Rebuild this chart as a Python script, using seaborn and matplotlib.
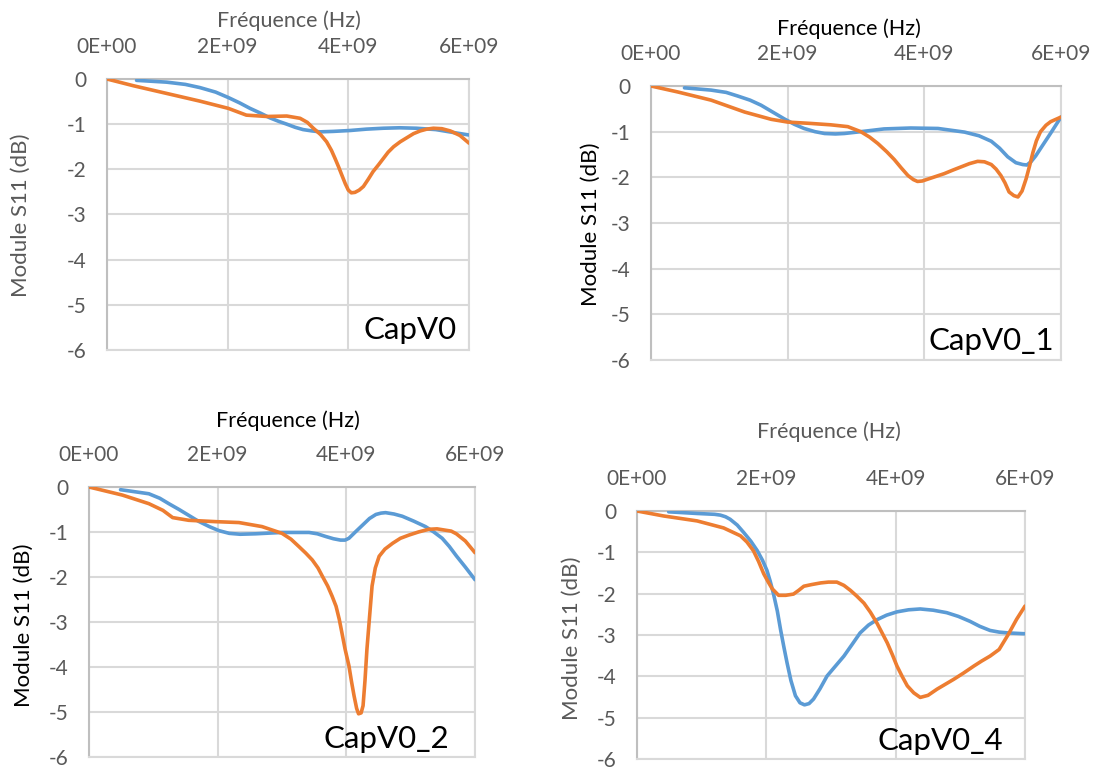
import matplotlib
matplotlib.use("Agg")
import matplotlib.pyplot as plt
import pandas as pd
import seaborn as sns

W, H = 1096, 771

# Frequencies in GHz, |S11| in dB
# --- CapV0 ---
capv0_sim_f = [0.49, 0.99, 1.30, 1.54, 1.80, 2.01, 2.20, 2.37, 2.55, 2.70, 2.85, 2.98, 3.12, 3.25, 3.40,
               3.53, 3.75, 4.03, 4.30, 4.58, 4.85, 5.13, 5.45, 5.72, 6.00]
capv0_sim_db = [-0.03, -0.07, -0.12, -0.19, -0.29, -0.41, -0.53, -0.65, -0.76, -0.86, -0.94, -1.00, -1.07,
                -1.12, -1.15, -1.17, -1.16, -1.14, -1.11, -1.09, -1.08, -1.09, -1.12, -1.18, -1.24]
capv0_mes_f = [0.0, 0.44, 0.99, 1.54, 2.01, 2.31, 2.65, 2.98, 3.20, 3.32, 3.42, 3.54, 3.64, 3.72, 3.78,
               3.84, 3.89, 3.95, 4.00, 4.05, 4.11, 4.18, 4.25, 4.33, 4.41, 4.50, 4.58, 4.66, 4.75, 4.86,
               4.97, 5.08, 5.19, 5.30, 5.41, 5.55, 5.69, 5.85, 6.00]
capv0_mes_db = [0.0, -0.15, -0.32, -0.49, -0.65, -0.80, -0.83, -0.82, -0.87, -0.96, -1.09, -1.23, -1.39,
                -1.58, -1.76, -1.95, -2.12, -2.32, -2.46, -2.52, -2.51, -2.46, -2.38, -2.22, -2.05, -1.90,
                -1.76, -1.62, -1.50, -1.39, -1.30, -1.21, -1.15, -1.11, -1.09, -1.10, -1.15, -1.25, -1.42]

# --- CapV0_1 ---
capv01_sim_f = [0.49, 0.88, 1.10, 1.27, 1.45, 1.61, 1.78, 1.95, 2.10, 2.24, 2.40, 2.54, 2.70, 2.83, 3.07,
                3.41, 3.80, 4.20, 4.59, 4.80, 4.98, 5.10, 5.22, 5.34, 5.44, 5.50, 5.56, 5.63, 5.70, 5.85, 6.00]
capv01_sim_db = [-0.04, -0.09, -0.14, -0.22, -0.31, -0.42, -0.57, -0.72, -0.84, -0.93, -1.00, -1.04, -1.05,
                 -1.04, -1.00, -0.94, -0.92, -0.93, -1.01, -1.09, -1.21, -1.36, -1.55, -1.68, -1.72, -1.73,
                 -1.66, -1.53, -1.37, -1.03, -0.68]
capv01_mes_f = [0.0, 0.39, 0.88, 1.37, 1.76, 2.00, 2.34, 2.63, 2.88, 3.07, 3.20, 3.32, 3.45, 3.56, 3.66,
                3.76, 3.84, 3.90, 3.97, 4.05, 4.17, 4.29, 4.42, 4.54, 4.66, 4.78, 4.88, 4.98, 5.05, 5.12,
                5.18, 5.24, 5.31, 5.37, 5.43, 5.49, 5.54, 5.59, 5.64, 5.70, 5.78, 5.85, 6.00]
capv01_mes_db = [0.0, -0.13, -0.31, -0.57, -0.73, -0.79, -0.82, -0.85, -0.89, -1.00, -1.12, -1.26, -1.44,
                 -1.61, -1.79, -1.96, -2.05, -2.09, -2.08, -2.04, -1.98, -1.92, -1.84, -1.77, -1.70, -1.65,
                 -1.66, -1.72, -1.82, -1.96, -2.12, -2.32, -2.40, -2.43, -2.30, -2.03, -1.75, -1.45, -1.20,
                 -1.00, -0.86, -0.78, -0.68]

# --- CapV0_2 ---
capv02_sim_f = [0.49, 0.93, 1.10, 1.24, 1.40, 1.55, 1.70, 1.87, 2.02, 2.18, 2.35, 2.59, 3.00, 3.42, 3.55,
                3.68, 3.80, 3.91, 3.98, 4.04, 4.14, 4.25, 4.36, 4.46, 4.54, 4.61, 4.74, 4.87, 5.05, 5.23,
                5.36, 5.49, 5.60, 5.71, 5.85, 6.00]
capv02_sim_db = [-0.06, -0.15, -0.25, -0.37, -0.50, -0.63, -0.76, -0.88, -0.97, -1.03, -1.05, -1.04, -1.01,
                 -1.01, -1.04, -1.10, -1.15, -1.18, -1.18, -1.14, -1.00, -0.85, -0.70, -0.61, -0.58, -0.57,
                 -0.60, -0.65, -0.76, -0.88, -1.00, -1.14, -1.32, -1.53, -1.78, -2.06]
capv02_mes_f = [0.0, 0.52, 0.93, 1.15, 1.30, 1.55, 1.97, 2.33, 2.69, 3.00, 3.14, 3.26, 3.37, 3.47, 3.56,
                3.63, 3.71, 3.78, 3.84, 3.89, 3.93, 3.98, 4.04, 4.08, 4.12, 4.16, 4.19, 4.23, 4.26, 4.29,
                4.32, 4.36, 4.40, 4.45, 4.51, 4.60, 4.72, 4.84, 4.97, 5.12, 5.28, 5.41, 5.54, 5.63, 5.71,
                5.85, 6.00]
capv02_mes_db = [0.0, -0.18, -0.37, -0.52, -0.68, -0.74, -0.77, -0.79, -0.88, -1.03, -1.16, -1.32, -1.47,
                 -1.62, -1.80, -1.99, -2.20, -2.43, -2.65, -2.94, -3.23, -3.60, -3.97, -4.32, -4.64, -4.92,
                 -5.04, -5.02, -4.86, -4.30, -3.61, -2.90, -2.20, -1.80, -1.54, -1.38, -1.25, -1.14, -1.07,
                 -1.00, -0.94, -0.93, -0.96, -0.98, -1.04, -1.20, -1.46]

# --- CapV0_4 ---
capv04_sim_f = [0.49, 0.93, 1.20, 1.29, 1.37, 1.44, 1.55, 1.65, 1.76, 1.86, 1.94, 2.01, 2.06, 2.11, 2.17,
                2.22, 2.27, 2.32, 2.38, 2.45, 2.52, 2.59, 2.66, 2.73, 2.83, 2.94, 3.07, 3.20, 3.33, 3.45,
                3.58, 3.71, 3.86, 4.02, 4.20, 4.38, 4.58, 4.79, 4.97, 5.15, 5.30, 5.46, 5.60, 5.74, 6.00]
capv04_sim_db = [-0.02, -0.06, -0.08, -0.10, -0.14, -0.20, -0.34, -0.52, -0.73, -0.96, -1.19, -1.44, -1.70,
                 -2.00, -2.42, -2.87, -3.28, -3.67, -4.10, -4.47, -4.64, -4.69, -4.66, -4.55, -4.30, -3.99,
                 -3.75, -3.51, -3.22, -2.95, -2.76, -2.63, -2.52, -2.44, -2.39, -2.37, -2.40, -2.46, -2.55,
                 -2.67, -2.79, -2.89, -2.93, -2.95, -2.97]
capv04_mes_f = [0.0, 0.41, 0.93, 1.34, 1.60, 1.70, 1.80, 1.88, 1.96, 2.03, 2.09, 2.19, 2.30, 2.42, 2.50,
                2.58, 2.70, 2.84, 2.96, 3.09, 3.20, 3.30, 3.40, 3.51, 3.61, 3.71, 3.79, 3.87, 3.95, 4.02,
                4.10, 4.18, 4.28, 4.38, 4.50, 4.64, 4.77, 4.90, 5.05, 5.21, 5.33, 5.46, 5.60, 5.74, 5.87,
                6.00]
capv04_mes_db = [0.0, -0.12, -0.24, -0.41, -0.60, -0.75, -0.96, -1.22, -1.52, -1.72, -1.88, -2.04, -2.04,
                 -2.01, -1.92, -1.82, -1.78, -1.74, -1.72, -1.72, -1.80, -1.92, -2.06, -2.23, -2.45, -2.71,
                 -2.95, -3.19, -3.48, -3.75, -4.00, -4.23, -4.40, -4.51, -4.46, -4.31, -4.19, -4.07, -3.92,
                 -3.75, -3.63, -3.51, -3.35, -2.99, -2.62, -2.30]

panel_names = ["CapV0", "CapV0_1", "CapV0_2", "CapV0_4"]
x_ticks = [0.0, 2e9, 4e9, 6e9]
x_tick_labels = ["0E+00", "2E+09", "4E+09", "6E+09"]
y_ticks = [0, -1, -2, -3, -4, -5, -6]
y_tick_labels = ["0", "-1", "-2", "-3", "-4", "-5", "-6"]
x_title = "Fréquence (Hz)"
y_title = "Module S11 (dB)"

series = [
    (capv0_sim_f, capv0_sim_db, capv0_mes_f, capv0_mes_db),
    (capv01_sim_f, capv01_sim_db, capv01_mes_f, capv01_mes_db),
    (capv02_sim_f, capv02_sim_db, capv02_mes_f, capv02_mes_db),
    (capv04_sim_f, capv04_sim_db, capv04_mes_f, capv04_mes_db),
]

# layout in pixels: axes box (left, top, right, bottom), title centre, ylabel centre,
# name anchor (right, baseline), colours of title / ylabel
layout = [
    dict(box=(107, 79, 469, 350), title=(289, 21), ylab=(21, 215), name=(457, 339),
         tcol="#595959", ycol="#595959"),
    dict(box=(651, 86, 1061, 360), title=(849, 29), ylab=(591, 224), name=(1054, 350),
         tcol="#000000", ycol="#000000"),
    dict(box=(89, 487, 475, 757), title=(288, 421), ylab=(24, 625), name=(449, 748),
         tcol="#000000", ycol="#000000"),
    dict(box=(637, 511, 1025, 759), title=(829, 432), ylab=(572, 638), name=(1003, 750),
         tcol="#595959", ycol="#595959"),
]

sns.set_style("white")
plt.rcParams["font.family"] = ["Lato", "DejaVu Sans"]

BLUE = "#5B9BD5"
ORANGE = "#ED7D31"
GRID = "#D9D9D9"
AXIS = "#BFBFBF"
TICK = "#595959"

fig = plt.figure(figsize=(W / 100, H / 100), dpi=100)
fig.patch.set_facecolor("white")

for name, (sf, sdb, mf, mdb), lay in zip(panel_names, series, layout):
    x0, y0, x1, y1 = lay["box"]
    ax = fig.add_axes([x0 / W, 1 - y1 / H, (x1 - x0) / W, (y1 - y0) / H])

    df = pd.concat([
        pd.DataFrame({"freq": [f * 1e9 for f in sf], "s11": sdb, "serie": "sim"}),
        pd.DataFrame({"freq": [f * 1e9 for f in mf], "s11": mdb, "serie": "mes"}),
    ], ignore_index=True)
    sns.lineplot(data=df, x="freq", y="s11", hue="serie", hue_order=["sim", "mes"],
                 palette={"sim": BLUE, "mes": ORANGE}, estimator=None, sort=False,
                 legend=False, ax=ax, zorder=3)
    for ln in ax.lines:
        ln.set_linewidth(2.6)
        ln.set_solid_capstyle("round")
        ln.set_solid_joinstyle("round")

    ax.set_xlim(0, 6e9)
    ax.set_ylim(-6, 0)
    ax.set_xticks(x_ticks)
    ax.set_xticklabels(x_tick_labels)
    ax.set_yticks(y_ticks)
    ax.set_yticklabels(y_tick_labels)
    ax.set_xlabel("")
    ax.set_ylabel("")
    ax.xaxis.tick_top()
    ax.tick_params(axis="x", length=0, pad=16, labelsize=15, labelcolor=TICK)
    ax.tick_params(axis="y", length=0, pad=15, labelsize=15, labelcolor=TICK)
    ax.grid(True, color=GRID, linewidth=1.5, zorder=0)
    ax.set_axisbelow(True)
    for side in ("top", "left"):
        ax.spines[side].set_color(AXIS)
        ax.spines[side].set_linewidth(1.5)
    for side in ("right", "bottom"):
        ax.spines[side].set_color(GRID)
        ax.spines[side].set_linewidth(1.5)

    tx, ty = lay["title"]
    fig.text(tx / W, 1 - ty / H, x_title, ha="center", va="center", fontsize=15.5, color=lay["tcol"])
    lx, ly = lay["ylab"]
    fig.text(lx / W, 1 - ly / H, y_title, ha="center", va="center", rotation=90,
             fontsize=16, color=lay["ycol"])
    nx, ny = lay["name"]
    fig.text(nx / W, 1 - ny / H, name, ha="right", va="baseline", fontsize=22.5, color="black")

fig.savefig("out.png", dpi=100, facecolor="white")
